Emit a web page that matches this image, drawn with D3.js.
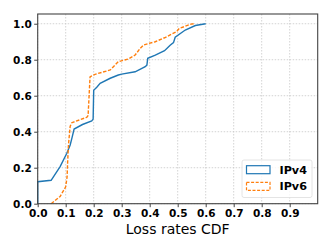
<!doctype html>
<html>
  <head>
    <meta charset="utf-8">
    <script src="https://cdn.jsdelivr.net/npm/d3@7/dist/d3.min.js"></script>
    <style>
      body { margin: 0; background: #fff; }
      svg { display: block; font-family: "DejaVu Sans", sans-serif; }
      .tick text { font-weight: bold; font-size: 10.5px; fill: #000; }
    </style>
  </head>
  <body>
    <svg width="332" height="249"></svg>
    <script>
      // loss rate (x) and cumulative fraction (y)
      const ipv4X = [0, 0, 0.048, 0.08, 0.104, 0.116, 0.122, 0.13, 0.16, 0.193, 0.198, 0.2, 0.211, 0.223, 0.259, 0.288, 0.30, 0.348, 0.384, 0.39, 0.393, 0.42, 0.453, 0.473, 0.485, 0.491, 0.527, 0.563, 0.6];
      const ipv4Y = [0, 0.122, 0.13, 0.206, 0.28, 0.326, 0.363, 0.415, 0.44, 0.46, 0.47, 0.63, 0.647, 0.669, 0.697, 0.715, 0.72, 0.733, 0.761, 0.77, 0.808, 0.826, 0.85, 0.88, 0.895, 0.925, 0.965, 0.99, 1.0];
      const ipv6X = [0.048, 0.08, 0.1, 0.105, 0.107, 0.11, 0.116, 0.122, 0.175, 0.18, 0.187, 0.193, 0.205, 0.259, 0.276, 0.288, 0.324, 0.348, 0.366, 0.378, 0.42, 0.453, 0.495, 0.506, 0.548, 0.56];
      const ipv6Y = [0, 0.04, 0.094, 0.15, 0.233, 0.33, 0.43, 0.45, 0.48, 0.49, 0.705, 0.71, 0.719, 0.743, 0.77, 0.789, 0.804, 0.826, 0.863, 0.882, 0.9, 0.922, 0.955, 0.974, 0.998, 1.0];
      const xTicks = [0, 0.1, 0.2, 0.3, 0.4, 0.5, 0.6, 0.7, 0.8, 0.9];
      const yTicks = [0, 0.2, 0.4, 0.6, 0.8, 1.0];
      const seriesNames = ["IPv4", "IPv6"];

      const mLeft = 37.7, mRight = 317.7, mTop = 14, mBottom = 203.7;
      const svg = d3.select("svg");
      const x = d3.scaleLinear().domain([0, 1]).range([mLeft, mRight]);
      const y = d3.scaleLinear().domain([0, 1.054]).range([mBottom, mTop]);

      // grid
      svg.append("g").selectAll("line").data(xTicks).enter().append("line")
        .attr("x1", d => x(d)).attr("x2", d => x(d))
        .attr("y1", mTop).attr("y2", mBottom)
        .style("stroke", "#c8c8c8").style("stroke-width", "0.8px").style("stroke-dasharray", "1.5,1.5");
      svg.append("g").selectAll("line").data(yTicks).enter().append("line")
        .attr("x1", mLeft).attr("x2", mRight)
        .attr("y1", d => y(d)).attr("y2", d => y(d))
        .style("stroke", "#c8c8c8").style("stroke-width", "0.8px").style("stroke-dasharray", "1.5,1.5");

      const line = d3.line().x(d => x(d[0])).y(d => y(d[1]));
      const v4 = ipv4X.map((v, i) => [v, ipv4Y[i]]);
      const v6 = ipv6X.map((v, i) => [v, ipv6Y[i]]);

      svg.append("path").datum(v4).attr("d", line)
        .style("fill", "none").style("stroke", "#1f77b4").style("stroke-width", "1.4px");
      svg.append("path").datum(v6).attr("d", line)
        .style("fill", "none").style("stroke", "#ff7f0e").style("stroke-width", "1.4px")
        .style("stroke-dasharray", "3.5,1.6");

      // frame
      svg.append("rect").attr("x", mLeft).attr("y", mTop)
        .attr("width", mRight - mLeft).attr("height", mBottom - mTop)
        .style("fill", "none").style("stroke", "#444").style("stroke-width", "1.1px");

      const xAxis = svg.append("g").attr("transform", "translate(0," + mBottom + ")")
        .call(d3.axisBottom(x).tickValues(xTicks).tickFormat(d3.format(".1f")).tickSize(3.5).tickPadding(2));
      const yAxis = svg.append("g").attr("transform", "translate(" + mLeft + ",0)")
        .call(d3.axisLeft(y).tickValues(yTicks).tickFormat(d3.format(".1f")).tickSize(3.5).tickPadding(2.5));
      [xAxis, yAxis].forEach(a => {
        a.select(".domain").remove();
        a.selectAll(".tick line").style("stroke", "#444");
        a.attr("font-family", null).attr("font-size", null);
      });

      svg.append("text").attr("x", (mLeft + mRight) / 2).attr("y", 234)
        .attr("text-anchor", "middle").style("font-size", "14px")
        .text("Loss rates CDF");

      // legend
      const lg = svg.append("g");
      lg.append("rect").attr("x", 242).attr("y", 160).attr("width", 70).attr("height", 37.5)
        .attr("rx", 2).style("fill", "#fff").style("fill-opacity", 0.8)
        .style("stroke", "#ddd").style("stroke-width", "0.8px");
      const colors = ["#1f77b4", "#ff7f0e"];
      const dashes = [null, "3,1.6"];
      seriesNames.forEach((name, i) => {
        const yy = 165.7 + i * 16.7;
        lg.append("rect").attr("x", 246.5).attr("y", yy).attr("width", 23.5).attr("height", 8)
          .style("fill", "#fff").style("stroke", colors[i]).style("stroke-width", "1.2px")
          .style("stroke-dasharray", dashes[i]);
        lg.append("text").attr("x", 279.5).attr("y", yy + 8)
          .style("font-size", "11.2px").style("font-weight", "bold").text(name);
      });
    </script>
  </body>
</html>
